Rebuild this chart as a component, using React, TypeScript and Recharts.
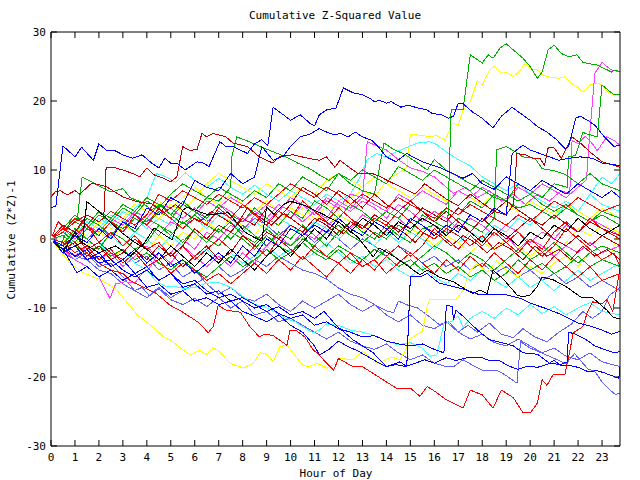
import React from 'react'
import { LineChart, Line, XAxis, YAxis } from 'recharts'

// plot geometry (px inside the 640x480 chart)
const LEFT = 51
const RIGHT = 620
const TOP = 32
const BOTTOM = 446
const FONT = '"DejaVu Sans Mono", "Liberation Mono", monospace'

const HOURS = Array.from({ length: 24 }, (_, i) => i)
const Y_TICKS = [-30, -20, -10, 0, 10, 20, 30]

const BLUE = '#0000ff'
const RED = '#ff0000'
const DKRED = '#c00000'
const GREEN = '#00b000'
const MAGENTA = '#ff40ff'
const CYAN = '#40ffff'
const YELLOW = '#ffff00'
const SLATE = '#6060ff'
const BLACK = '#000000'

type Pt = [number, number]

const blueTop: Pt[] = [[0,4.6],[0.2,4.7],[0.5,13.5],[1.0,11.9],[1.28,13.3],[1.77,11.4],[2.0,13.8],[2.3,12.9],[2.67,12.8],[3.0,12.2],[3.4,11.7],[3.8,12.2],[4.2,11.0],[4.5,10.3],[4.75,11.7],[5.0,11.0],[5.25,11.0],[5.6,10.0],[6.1,11.2],[6.35,11.0],[6.6,10.5],[7.05,14.1],[7.3,13.4],[7.6,13.4],[7.9,12.9],[8.2,12.4],[8.5,13.8],[8.8,14.4],[9.05,13.5],[9.27,19.1],[9.7,18.0],[10.0,17.2],[10.4,18.0],[10.8,16.8],[11.0,16.4],[11.2,18.0],[11.5,18.7],[11.9,19.0],[12.2,21.9],[12.6,21.2],[13.0,20.9],[13.3,20.4],[13.5,19.9],[13.7,20.1],[14.0,19.7],[14.2,19.9],[14.6,19.1],[14.9,19.4],[15.3,19.0],[15.7,18.7],[15.9,18.2],[16.3,18.0],[16.6,17.5],[16.8,17.8],[17.0,19.7],[17.2,19.6],[17.6,18.4],[18.0,17.5],[18.45,16.1],[18.8,17.8],[19.25,19.1],[19.6,18.2],[20.0,17.2],[20.3,16.3],[20.7,15.5],[21.1,14.4],[21.45,13.1],[21.6,13.4],[21.9,17.5],[22.1,17.8],[22.4,17.2],[22.7,16.5],[23.1,14.8],[23.5,13.4],[23.75,13.6]]
const blueSecond: Pt[] = [[0,0],[0.5,-1.5],[1,0.5],[1.5,-0.5],[2,1.5],[2.5,0],[3,2.5],[3.5,1.5],[4,4.5],[4.5,3.5],[5,6],[5.5,5],[6,8.5],[6.5,7.5],[7,7],[7.5,9.5],[8,8],[8.5,9],[8.8,13.4],[9.27,11.4],[9.7,12.0],[10.0,13.4],[10.4,14.8],[10.8,15.2],[11.2,16.0],[11.5,15.5],[11.8,15.1],[12.1,15.3],[12.4,14.8],[12.7,15.5],[13.0,14.8],[13.4,14.3],[13.7,13.2],[14.0,11.9],[14.4,11.2],[14.85,12.4],[15.1,11.9],[15.5,11.2],[16.2,10.4],[16.7,9.6],[17.2,8.8],[17.6,9.5],[18.0,8.0],[18.5,7.2],[19.0,9.0],[19.5,8.0],[20.0,7.0],[20.5,8.5],[21.0,7.5],[21.5,6.5],[22.0,8.0],[22.5,7.0],[23.0,6.0],[23.4,7.0],[23.75,6.0]]
const blueLateJump: Pt[] = [[0,0],[0.5,-2],[1,-1],[1.5,-3],[2,-2],[2.5,-4],[3,-3],[3.5,-1.5],[4,-3.5],[4.5,-2],[5,-4],[5.5,-3],[6,-5],[6.5,-3.5],[7,-2],[7.5,-3.5],[8,-1],[8.5,-2.5],[9,0],[9.5,-1],[10,1.5],[10.5,0.5],[11,2],[11.5,1],[12,3],[12.5,1.5],[13,0.5],[13.5,2.5],[14,1.5],[14.5,0],[15,3],[15.5,2],[16,0.5],[16.5,2],[17,1],[17.5,3.5],[18,2.5],[18.5,4.5],[19.0,3.5],[19.25,12.4],[19.7,13.6],[20.0,12.9],[20.4,12.4],[20.8,11.9],[21.2,11.4],[21.6,11.7],[22.1,11.9],[22.6,11.7],[23.0,11.0],[23.45,10.8],[23.75,10.6]]
const greenTop: Pt[] = [[0,0],[0.5,2],[1,1],[1.5,3],[2,2],[2.5,0.5],[3,2.5],[3.5,1],[4,3],[4.5,2],[5,0.5],[5.5,2.5],[6,1],[6.5,-0.5],[7,1.5],[7.5,0],[8,2],[8.5,0.5],[9,-1],[9.5,1],[10,0],[10.5,2],[11,0.5],[11.5,-1],[12,1],[12.5,2.5],[13,1],[13.5,0],[14,2],[14.5,0.5],[15,-0.5],[15.5,1.5],[16,2],[16.55,0.9],[16.7,18.7],[17.2,18.8],[17.5,26.7],[18.0,25.5],[18.25,26.7],[18.45,26.2],[18.75,27.7],[19.0,28.3],[19.3,27.4],[19.7,26.2],[20.0,25.0],[20.3,23.3],[20.5,24.2],[20.75,27.4],[21.0,28.1],[21.3,26.9],[21.6,26.4],[21.95,26.7],[22.2,25.6],[22.8,25.2],[23.4,24.2],[23.55,24.5],[23.75,24.2]]
const yellowTop: Pt[] = [[0,0],[0.5,-1.5],[1,0],[1.5,-2],[2,-1],[2.5,-3],[3,-1.5],[3.5,-3],[4,-2],[4.5,0.5],[5,-1],[5.5,1],[6,0],[6.5,2.5],[7,1],[7.5,3],[8,2],[8.5,0.5],[9,3],[9.5,2],[10,4.5],[10.5,3.5],[11,2.5],[11.5,5],[12,4],[12.5,6],[13,7],[13.5,6],[14,8.5],[14.5,9.5],[14.85,10.4],[15.0,15.2],[15.5,15.0],[15.8,14.8],[16.1,15.0],[16.45,14.3],[16.75,16.8],[17.0,16.5],[17.2,18.7],[17.5,19.9],[17.8,23.0],[18.0,22.3],[18.3,24.5],[18.5,25.0],[18.8,24.0],[19.0,24.2],[19.3,23.5],[19.6,24.5],[19.8,25.6],[20.0,24.7],[20.3,24.5],[20.5,23.8],[20.8,23.5],[21.2,23.3],[21.45,23.5],[21.7,22.6],[21.95,22.1],[22.2,21.3],[22.5,22.3],[22.8,22.6],[23.0,22.3],[23.25,21.3],[23.5,20.9],[23.75,20.9]]
const magentaTop: Pt[] = [[0,0],[0.5,-1],[1,-2.5],[1.5,-1],[2,-3],[2.5,-2],[3,-4],[3.5,-2.5],[4,-1],[4.5,-3],[5,-2],[5.5,0],[6,-1.5],[6.5,1],[7,0],[7.5,2],[8,1],[8.5,3.5],[9,2.5],[9.5,4],[10,3],[10.5,5],[11,4],[11.5,3],[12,5.5],[12.5,4.5],[13,6],[13.5,5],[14,4],[14.5,6.5],[15,5.5],[15.5,7],[16,6],[16.5,5],[17,7],[17.5,6],[18,7.5],[18.5,6.5],[19,5.5],[19.5,7.5],[20,6.5],[20.5,8],[21,7],[21.5,6],[22,7.5],[22.35,8.6],[22.5,15.8],[22.7,24.0],[23.0,25.6],[23.2,25.0],[23.4,24.5],[23.75,24.2]]
const greenRight: Pt[] = [[0,0],[0.5,1.5],[1,3.5],[1.5,2],[2,4],[2.5,3],[3,5],[3.5,4],[4,6],[4.5,5],[5,3.5],[5.5,5.5],[6,4],[6.5,3],[7,5],[7.5,3.5],[8,2.5],[8.5,4.5],[9,3],[9.5,2],[10,4],[10.5,3],[11,5.5],[11.5,4.5],[12,3],[12.5,5],[13,4],[13.5,2.5],[14,4],[14.5,3],[15,5],[15.5,4],[16,2.5],[16.5,4.5],[17,3.5],[17.5,5.5],[18,4.5],[18.5,6.5],[19,5.5],[19.5,8],[20,7],[20.5,6],[21,8],[21.55,7.5],[21.6,11.9],[21.9,12.1],[22.2,15.5],[22.3,15.3],[22.8,14.8],[23.0,22.3],[23.5,20.9],[23.75,20.9]]
const greenMidJump: Pt[] = [[0,0],[0.5,-1],[1,1.5],[1.5,0],[2,-1.5],[2.5,1],[3,0],[3.5,-1.5],[4,-0.5],[4.5,2],[5,1],[5.5,-0.5],[6,1.5],[6.5,0],[7,-1],[7.5,1],[8,0],[8.5,-1.5],[9,0.5],[9.5,-1],[10,-2],[10.5,0],[11,-1],[11.5,1],[12,2],[12.5,0.5],[13,-0.5],[13.5,1],[14,0],[14.5,2],[15,1],[15.5,3.5],[16,2.5],[16.5,1.5],[17,3],[17.5,2],[18,1],[18.5,3],[18.6,12.9],[19.0,13.4],[19.4,12.6],[19.7,11.9],[20.2,11.7],[20.5,10.2],[21.0,9.9],[21.5,9.3],[22,8],[22.5,9.5],[23,8],[23.75,7]]
const greenEarlyPeak: Pt[] = [[0,0],[0.5,1],[1,-0.5],[1.5,1.5],[2,0.5],[2.5,2.5],[3,1.5],[3.5,3],[4,2],[4.5,4],[5,3],[5.5,5],[6,4],[6.5,6],[7,5.5],[7.5,7.5],[7.55,11.9],[7.75,14.8],[8.2,14.2],[8.8,13.3],[9.3,12.6],[9.8,11.9],[10.3,11],[10.8,10.2],[11.2,9.3],[11.6,8.5],[12,9.5],[12.5,8],[13,7],[13.5,6.5],[13.9,13.9],[14.3,13],[14.8,12.2],[15.3,11],[15.7,10],[16,11.5],[16.5,10],[17,9],[17.5,8],[18,7.2],[18.5,6],[19,5.5],[19.5,4.5],[20,5],[20.5,4],[21,3],[21.5,4.5],[22,3.5],[22.5,2.5],[23,3.5],[23.75,2]]
const greenLeftPeak: Pt[] = [[0,0],[0.4,-1],[0.8,2.5],[1.1,3],[1.3,9.0],[1.7,8.3],[2.1,7.5],[2.5,6.8],[3,7.3],[3.3,6],[3.8,5.3],[4.2,4.2],[4.6,5],[5,3.5],[5.5,2.2],[6,3.5],[6.5,2],[7,1],[7.5,2.5],[8,0.5],[8.5,-0.5],[9,1.5],[9.5,0],[10,-1],[10.5,0.5],[11,-1.5],[11.5,-2.5],[12,-1],[12.5,-2],[13,-3],[13.5,-1.5],[14,-2.5],[14.5,-4],[15,-3],[15.5,-4.5],[16,-3.5],[16.5,-5],[17,-4],[17.5,-5.5],[18,-4.5],[18.5,-6],[19,-5],[19.5,-3],[20,-4.5],[20.5,-3.5],[21,-5],[21.5,-4],[22,-2.5],[22.5,-4],[23,-3],[23.75,-4]]
const greenBand: Pt[] = [[0,0],[0.5,1],[1,2.5],[1.5,1.5],[2,3.5],[2.5,2.5],[3,4.5],[3.5,3.5],[4,5.5],[4.5,4.5],[5,6.5],[5.5,8],[6,7],[6.5,6],[7,7.5],[7.5,6.5],[8,5.5],[8.5,7],[9,6],[9.5,8],[10,7],[10.5,9],[11,8],[11.5,7],[12,9.5],[12.5,8.5],[13,10],[13.5,9],[14,8],[14.5,10.5],[15,9.5],[15.5,8.5],[16,10],[16.5,9],[17,8],[17.5,7],[18,8.5],[18.5,7.5],[19,6.5],[19.5,5.5],[20,6.5],[20.5,5],[21,4],[21.5,5],[22,3.5],[22.5,2.5],[23,4],[23.75,3]]
const dkredPeak: Pt[] = [[0,0],[0.5,2],[1,1],[1.5,3.5],[2,2.5],[2.2,3],[2.3,10.3],[2.6,10.4],[3.0,10.0],[3.4,9.5],[3.7,9.0],[4.0,10.3],[4.3,9.3],[4.7,8.8],[5.0,8.3],[5.25,9.0],[5.5,13.4],[5.8,12.8],[6.1,13.0],[6.3,15.3],[6.5,14.8],[6.77,15.3],[7.3,14.8],[7.6,13.9],[8.2,13.4],[8.7,11.9],[9.0,11.4],[9.27,11.0],[9.55,12.0],[10.1,12.2],[10.6,11.8],[11.2,11.4],[11.5,11.9],[11.85,10.4],[12.06,11.4],[12.8,9.5],[13.4,9.5],[13.7,9.1],[14.2,8.2],[14.7,7.4],[15.2,6.5],[15.6,8.0],[16,7.0],[16.5,5.8],[17,4.8],[17.5,6.5],[18,5.2],[18.5,4.0],[19,5.5],[19.5,4.2],[20,3.0],[20.5,2.0],[21,3.5],[21.5,2.2],[22,1],[22.5,2.5],[23,1.5],[23.75,0.5]]
const dkredHighStart: Pt[] = [[0,6.1],[0.17,6.8],[0.4,7.0],[0.67,6.4],[1.0,7.0],[1.2,6.5],[1.7,8.1],[2.3,7.6],[3.0,6.1],[3.6,5.4],[4.2,5.1],[4.7,3.8],[5.2,5],[5.7,3.5],[6.2,2.5],[6.7,4],[7.2,3],[7.7,1.8],[8.2,4.5],[8.7,3.2],[9.2,2],[9.7,3.8],[10.2,2.5],[10.7,1.2],[11.2,3],[11.7,2],[12.2,0.8],[12.7,2.5],[13.2,1.5],[13.7,0.2],[14.2,2],[14.7,1],[15.2,-0.5],[15.7,1.5],[16.2,0.5],[16.7,-1],[17.2,0.5],[17.7,-0.5],[18.2,-2],[18.7,-0.5],[19.2,-1.5],[19.7,-3],[20.2,-1],[20.7,-2.5],[21.2,-1.5],[21.7,-3],[22.2,-1],[22.7,-2.5],[23.2,-1.5],[23.75,-3]]
const dkredLate: Pt[] = [[0,0],[0.5,-1.5],[1,-0.5],[1.5,-2.5],[2,-1],[2.5,-3],[3,-2],[3.5,0],[4,-1.5],[4.5,-3],[5,-2],[5.5,-4],[6,-2.5],[6.5,-1],[7,-3],[7.5,-2],[8,0.5],[8.5,-1],[9,1],[9.5,0],[10,2],[10.5,1],[11,3],[11.5,2],[12,0.5],[12.5,2.5],[13,1.5],[13.5,3.5],[14,2.5],[14.5,1],[15,2.5],[15.5,4.5],[16,3.5],[16.5,2.5],[17,4.5],[17.5,3.5],[18,2.5],[18.5,4],[19,3.5],[19.3,5],[19.45,12.4],[19.8,12.2],[20.1,11.7],[20.4,11.7],[20.6,10.7],[20.75,13.2],[21.0,13.2],[21.3,11.7],[21.75,14.8],[22.1,13.9],[22.5,12.6],[23.0,11.2],[23.75,10.4]]
const redLow: Pt[] = [[0,0],[0.5,-1.5],[1,-2.5],[1.5,-2],[2,-3.5],[2.5,-4.5],[3,-5],[3.3,-6],[3.7,-6.7],[4.4,-7.9],[4.97,-9.6],[5.5,-10.6],[6.2,-12.2],[6.56,-13.6],[6.77,-12.7],[6.98,-9.6],[7.3,-10.3],[7.9,-10.6],[8.3,-12.7],[8.7,-14.2],[8.93,-13.8],[9.27,-14.0],[9.85,-15.4],[9.97,-13.3],[10.25,-13.3],[10.6,-14.2],[10.95,-16.1],[11.2,-16.8],[11.5,-18.0],[11.8,-19.0],[12.0,-17.3],[12.6,-18.5],[13.0,-18.5],[13.86,-20.4],[14.4,-21.6],[15.0,-21.6],[15.4,-22.8],[15.7,-21.4],[15.95,-21.9],[16.5,-23.3],[17.2,-24.5],[17.5,-21.9],[18.0,-22.6],[18.45,-24.5],[18.8,-21.9],[19.3,-23.0],[19.7,-25.2],[20.0,-25.2],[20.3,-23.8],[20.5,-20.4],[20.7,-21.2],[20.95,-19.7],[21.45,-19.7],[21.66,-16.1],[21.8,-13.6],[22.2,-12.7],[22.37,-10.8],[22.6,-9.1],[23.0,-9.4],[23.2,-8.8],[23.45,-10.5],[23.6,-7.4],[23.75,-4.2]]
const yellowLow: Pt[] = [[0,0],[0.4,-1.8],[0.8,-3.5],[1.35,-4.9],[2.05,-5.9],[2.46,-6.7],[2.75,-7.4],[3.6,-11.0],[4.27,-12.8],[4.7,-14.2],[4.97,-14.6],[5.4,-15.8],[5.8,-16.8],[6.2,-16.1],[6.5,-16.8],[6.77,-15.7],[7.05,-16.4],[7.47,-18.0],[8.03,-18.7],[8.45,-18.0],[8.72,-16.5],[9.0,-16.7],[9.27,-17.8],[9.55,-15.6],[9.85,-15.4],[10.1,-16.5],[10.5,-18.3],[10.8,-18.5],[11.1,-18.0],[11.5,-18.7],[11.8,-18.2],[12.06,-17.3],[12.6,-17.5],[13.0,-16.3],[13.65,-18.0],[14.2,-17.1],[14.57,-17.5],[14.8,-16.1],[15.0,-14.4],[15.5,-13.4],[15.7,-9.8],[15.8,-8.8],[16.45,-8.8],[16.9,-8.8],[17.2,-7.4],[17.5,-4.5],[17.8,-3.5],[18.2,-4.8],[18.6,-3.2],[19.0,-4.5],[19.5,-5.5],[20.0,-4.0],[20.5,-5.0],[21.0,-3.5],[21.5,-2.5],[22.0,-4.0],[22.5,-2.0],[23.0,-1.0],[23.4,-2.0],[23.75,1.5]]
const yellowUpper: Pt[] = [[0,0],[0.5,-0.5],[1,1.5],[1.5,0.5],[2,2.5],[2.5,1.5],[3,3],[3.5,5],[4,4],[4.5,3],[5,5],[5.5,4],[6,6],[6.5,8],[7,9.5],[7.5,8.5],[8,7.5],[8.5,6.5],[9,8],[9.5,7],[10,6],[10.5,7.5],[11,6.5],[11.5,8.5],[12,9.5],[12.5,8.5],[13,7.5],[13.5,9],[14,8],[14.5,7],[15,6],[15.5,7.5],[16,6.5],[16.5,5.5],[17,7],[17.5,6],[18,5],[18.5,6.5],[19,5],[19.5,4],[20,5.5],[20.5,4.5],[21,3.5],[21.5,5],[22,4],[22.5,3],[23,4.5],[23.75,3]]
const blackDrift: Pt[] = [[0,0],[0.35,-1.2],[0.7,-1.5],[1.3,-0.5],[2,-2],[2.7,-1],[3.3,-2.5],[3.9,-0.6],[4.3,1.6],[5.05,-0.1],[5.5,4.2],[5.7,4.6],[6.55,3.5],[7.4,3.8],[8.1,1.0],[8.5,0.2],[8.8,-0.3],[9.0,4.7],[9.3,3.6],[9.7,5.0],[10.0,5.5],[10.7,4.7],[11.4,3.5],[12.06,2.3],[12.8,0.3],[13.45,-2.6],[13.7,-1.3],[14.3,-2.5],[14.85,-3.8],[15.4,-5.2],[15.7,-4.5],[16.2,-5.5],[16.8,-6.2],[17.35,-7.4],[17.6,-7.9],[17.9,-7.4],[18.2,-7.9],[18.45,-4.5],[18.9,-5.9],[19.45,-8.1],[19.7,-8.4],[20.0,-8.1],[20.3,-6.9],[20.5,-5.5],[20.95,-5.9],[21.5,-6.9],[22.1,-8.4],[22.6,-8.5],[23.2,-10.3],[23.45,-11.3],[23.75,-11.6]]
const blackEarly: Pt[] = [[0,0],[0.5,-2],[1,1],[1.3,-0.5],[1.5,5.4],[2,4.0],[2.67,1.8],[3,0.8],[3.5,-0.5],[4,-1.5],[4.5,-3],[5,-1],[5.5,-2.5],[6,-4],[6.5,-2],[7,-3.5],[7.5,-1.5],[8,-3],[8.5,-4.5],[9,-2.5],[9.5,-1],[10,-2.5],[10.5,-0.5],[11,1.5],[11.5,0],[12,2.5],[12.5,1],[13,3],[13.5,2],[14,0.5],[14.5,2.5],[15,1.5],[15.5,3],[16,2],[16.5,0.5],[17,2],[17.5,1],[18,-0.5],[18.5,1.5],[19,0.5],[19.5,-1],[20,1],[20.5,0],[21,2],[21.5,1],[22,3],[22.5,1.5],[23,0.5],[23.75,2]]
const cyanLow: Pt[] = [[0,0],[0.5,-1],[1,0.5],[1.5,-1.5],[2,-0.5],[2.5,-2.5],[3,-1.5],[3.5,-3.5],[4,-4.5],[4.4,-6.2],[4.8,-6.9],[5.2,-6.9],[5.6,-7.2],[6,-7.0],[6.5,-6.4],[7.0,-6.3],[7.5,-7.0],[8.0,-8.3],[8.5,-9.5],[8.9,-9.8],[9.3,-10.5],[9.8,-11.5],[10.2,-12.0],[10.5,-12.7],[10.95,-13.6],[11.2,-13.2],[11.5,-12.3],[12,-12.5],[12.5,-13.2],[13,-13.5],[13.5,-14],[14,-14.8],[14.5,-15.3],[15,-15.0],[15.5,-15.8],[15.8,-17.0],[16.1,-16.8],[16.4,-12.3],[16.7,-12.0],[17,-11.2],[17.2,-12.8],[17.5,-11.5],[18,-10.5],[18.5,-11.5],[19,-10.0],[19.5,-11.0],[20,-9.5],[20.5,-10.8],[21,-9.8],[21.5,-11.0],[22,-10.0],[22.5,-9.2],[23,-10.5],[23.75,-11.0]]
const cyanHigh: Pt[] = [[0,0],[0.5,1.5],[1,0.5],[1.5,2.5],[2,1.5],[2.5,3.5],[3,2.5],[3.5,4.5],[4,6],[4.4,9.5],[4.8,9],[5.2,8.2],[5.6,9.6],[6,8.5],[6.5,7.5],[7,8.8],[7.5,7.5],[8,6.5],[8.5,7.8],[9,6.5],[9.5,5.5],[10,7],[10.5,6],[11,5],[11.5,6.5],[12,5.5],[12.5,6.5],[12.9,9],[13.2,11.5],[13.6,12.4],[14,11.8],[14.4,12.6],[14.8,13.2],[15.3,13.9],[15.8,14.1],[16.1,13.7],[16.5,12.6],[17,11.5],[17.5,10.6],[18,9.0],[18.5,8.0],[19,7],[19.5,8],[20,6.5],[20.5,5.5],[21,4.5],[21.5,5.5],[22,4],[22.5,6.5],[23,5],[23.75,4]]
const magentaLow: Pt[] = [[0,0],[0.5,-1.5],[1,-3],[1.5,-4],[2,-5.5],[2.46,-8.6],[2.7,-6.5],[3.1,-6.2],[3.5,-6.4],[3.8,-5.0],[4.1,-4.3],[4.5,-2],[5,-3.5],[5.5,-1],[6,-2.5],[6.5,-4],[7,-2.5],[7.5,-4],[8,-2],[8.5,-3.5],[9,-1],[9.5,0.5],[10,-1],[10.5,1],[11,0],[11.5,2],[12,3],[12.5,1.5],[13,3.5],[13.5,2.5],[14,4],[14.5,3],[15,1.5],[15.5,3],[16,2],[16.5,0.5],[17,2.5],[17.5,1],[18,-0.5],[18.5,1.5],[19,0.5],[19.5,-1.5],[20,0],[20.5,-1],[21,-2.5],[21.5,-1],[22,-2],[22.5,-0.5],[23,-2],[23.75,-1]]
const magentaMid: Pt[] = [[0,0],[0.5,1],[1,-0.5],[1.5,1.5],[2,0.5],[2.5,2.5],[3,1],[3.5,3],[4,2],[4.5,0.5],[5,2.5],[5.5,1.5],[6,3.5],[6.5,5.5],[7,4.5],[7.5,6],[8,5],[8.5,3.5],[9,5],[9.5,4],[10,6],[10.5,5],[11,3.5],[11.5,5.5],[12,4.5],[12.5,6.5],[13,6],[13.2,14.1],[13.6,13.5],[14,12.9],[14.5,11.5],[15,10.3],[15.5,9.8],[16,9.0],[16.5,7.5],[16.8,6.6],[17.3,7.5],[17.8,6.0],[18.3,7.0],[18.8,5.5],[19.3,6.5],[19.8,5.0],[20.3,6.5],[20.8,5.5],[21.3,7.0],[21.65,6.5],[21.75,14.3],[22.0,13.8],[22.3,14.9],[22.6,13.8],[22.8,12.8],[23.0,13.8],[23.2,14.8],[23.5,14.3],[23.75,13.6]]
const slateLow: Pt[] = [[0,0],[0.5,-1],[1,-2.5],[1.5,-3],[2,-4.5],[2.5,-5],[3,-6.5],[3.5,-7.5],[4,-8.5],[4.5,-7.2],[5,-8.8],[5.5,-9.5],[6,-8.6],[6.5,-9.8],[7,-8.5],[7.5,-10],[8,-9],[8.5,-11],[9,-10.5],[9.5,-12],[10,-11.5],[10.5,-12.5],[11,-13.5],[11.5,-14.5],[12,-13.5],[12.5,-14.8],[13,-15.5],[13.5,-16.0],[14,-15.2],[14.5,-16.5],[15,-17.5],[15.5,-16.8],[16,-18],[16.5,-18.5],[16.8,-18.5],[17.2,-17.5],[17.6,-18.3],[18.0,-19.0],[18.6,-19.0],[19.0,-19.8],[19.45,-20.9],[19.6,-14.9],[20.0,-15.8],[20.4,-16.4],[20.8,-17.0],[21.2,-17.6],[21.5,-18.1],[21.85,-16.6],[22.1,-17.6],[22.4,-18.8],[22.7,-19.2],[23.0,-20.7],[23.3,-21.8],[23.55,-22.5],[23.75,-22.4]]
const blueLow: Pt[] = [[0,0],[0.5,-1.5],[1.08,-4.9],[1.5,-4.0],[2,-5.5],[2.5,-4.5],[3,-6],[3.5,-5],[4,-7],[4.5,-6.5],[5,-8],[5.5,-7.5],[6,-9],[6.5,-8.5],[7,-9.5],[7.5,-9],[8,-10.5],[8.5,-11.2],[9,-12],[9.5,-11],[10,-12.5],[10.5,-13.5],[11,-15.5],[11.2,-16.8],[11.6,-16.0],[12,-14.8],[12.4,-15.6],[12.8,-16.2],[13.2,-17.0],[13.6,-17.8],[14,-18.5],[14.4,-18.2],[14.8,-18.5],[15.2,-18.0],[15.6,-17.5],[16,-18.0],[16.5,-17.2],[16.9,-17.6],[17.4,-17.2],[17.9,-17.1],[18.3,-17.6],[18.7,-17.6],[19.1,-18.4],[19.5,-18.9],[19.9,-18.4],[20.3,-18.6],[20.7,-18.2],[21.0,-17.6],[21.3,-18.4],[21.6,-18.3],[22.0,-18.6],[22.4,-19.2],[22.8,-19.1],[23.1,-19.4],[23.4,-19.8],[23.7,-20.2],[23.75,-18.6]]
const blueJump15: Pt[] = [[0,0],[0.5,-2],[1,-1],[1.5,-3],[2,-2.5],[2.5,-4],[3,-3],[3.5,-5],[4,-4],[4.5,-6],[5,-5],[5.5,-7],[6,-6.5],[6.5,-8],[7,-7.5],[7.5,-9],[8,-8.5],[8.5,-9.5],[9,-10.5],[9.5,-9.8],[10,-11],[10.5,-10.5],[11,-11.5],[11.4,-10.5],[11.9,-12.5],[12.6,-14.6],[13.45,-16.5],[14.0,-18.5],[14.57,-17.8],[14.85,-18.5],[15.0,-5.5],[15.4,-5.5],[15.7,-5.0],[16.2,-6.4],[16.8,-6.9],[17.35,-7.4],[17.9,-8.1],[18.45,-8.0],[19.0,-8.1],[19.6,-8.6],[20.0,-9.3],[20.6,-10.0],[21.2,-10.8],[21.6,-11.5],[22.0,-12.2],[22.5,-12.6],[23.0,-13.2],[23.4,-13.8],[23.75,-13.4]]
const blueJump16: Pt[] = [[0,0],[0.5,-1],[1,-2.5],[1.5,-1.5],[2,-3.5],[2.5,-3],[3,-4.5],[3.5,-5.5],[4,-4.5],[4.5,-6],[5,-5],[5.5,-6.5],[6,-6],[6.5,-7.5],[7,-8.5],[7.5,-8],[8,-9],[8.5,-10],[9,-9.5],[9.5,-10.8],[10,-11.5],[10.5,-11],[11,-12.5],[11.5,-12],[12,-13],[12.5,-13.5],[13,-14.2],[13.5,-14],[14,-14.8],[14.5,-15.2],[15,-15.5],[15.5,-15.2],[16,-16],[16.4,-16.5],[16.5,-9.6],[16.75,-9.8],[16.8,-11.7],[16.9,-10.3],[17.3,-11.5],[17.8,-13.2],[18.3,-14.6],[18.9,-15.1],[19.3,-15.5],[19.7,-16.5],[20.3,-16.7],[20.8,-18.0],[21.25,-18.2],[21.55,-17.8],[21.6,-13.5],[21.9,-13.8],[22.3,-14.5],[22.7,-15.5],[23.1,-16.0],[23.5,-16.5],[23.75,-16.3]]
const slateMid: Pt[] = [[0,0],[0.5,-2],[1,-3],[1.5,-2],[2,-4],[2.5,-3.5],[3,-5.5],[3.5,-7.5],[3.8,-7],[4.1,-8.2],[4.5,-7.0],[5,-8.5],[5.5,-7.5],[6,-6.5],[6.5,-5.5],[7,-4],[7.5,-5.5],[8,-4.5],[8.5,-3],[9,-4],[9.5,-2.5],[10,-3.5],[10.5,-4.5],[11,-5.0],[11.5,-5.8],[12,-7.1],[12.5,-8.0],[13,-8.5],[13.5,-9.5],[14,-10.4],[14.3,-10.7],[14.5,-9.0],[14.9,-9.6],[15.3,-10.0],[15.7,-11.0],[16.2,-12.4],[16.6,-12.0],[17,-13.5],[17.4,-12.5],[17.8,-13.5],[18.3,-12.2],[18.8,-13.8],[19.3,-14.3],[19.7,-13.0],[20.2,-14.2],[20.7,-14.9],[21.2,-13.5],[21.7,-12.4],[22.2,-10.5],[22.6,-11.5],[23.0,-10.5],[23.3,-8.2],[23.75,-7]]
const slateDown: Pt[] = [[0,0],[0.5,1],[1,-0.5],[1.5,-2],[2,-1],[2.5,-2.5],[3,-1.5],[3.5,-3.5],[4,-2.5],[4.5,-4.5],[5,-3.5],[5.5,-5.5],[6,-4.5],[6.5,-6.5],[7,-8],[7.5,-7],[8,-8.5],[8.5,-9],[9,-8],[9.5,-9.5],[10,-10.5],[10.5,-9],[11,-10],[11.5,-9],[12,-8],[12.5,-9.5],[13,-10.5],[13.5,-9.5],[14,-11],[14.5,-12],[15,-11],[15.5,-12.5],[16,-13],[16.5,-12],[17,-13.5],[17.5,-14.5],[18,-13.8],[18.5,-15],[19,-15.5],[19.5,-14.5],[20,-15.5],[20.5,-16.5],[21,-15.8],[21.5,-17],[22,-17.5],[22.5,-16.5],[23,-17.8],[23.75,-18.5]]
const redA: Pt[] = [[0,0],[0.5,1.5],[1,0.5],[1.5,2],[2,-0.5],[2.5,1],[3,-1],[3.5,0.5],[4,-1.5],[4.5,-0.5],[5,-2.5],[5.5,-1],[6,-3],[6.5,-1.5],[7,0],[7.5,-1.5],[8,-3],[8.5,-1],[9,-2.5],[9.5,0],[10,-1.5],[10.5,-3],[11,-1],[11.5,-2.5],[12,-3.5],[12.5,-2],[13,-4],[13.5,-3],[14,-5],[14.5,-3.5],[15,-2],[15.5,-3.5],[16,-5],[16.5,-3],[17,-4.5],[17.5,-2.5],[18,-4],[18.5,-2],[19,-3.5],[19.5,-5],[20,-3],[20.5,-4.5],[21,-2.5],[21.5,-4],[22,-5.5],[22.5,-4],[23,-6],[23.75,-5]]
const redB: Pt[] = [[0,0],[0.3,2.5],[0.6,1.5],[1,3],[1.5,2],[2,0.5],[2.5,2.5],[3,1],[3.5,3.5],[4,2],[4.5,4.5],[5,3],[5.5,1.5],[6,3],[6.5,2],[7,4.5],[7.5,3],[8,5],[8.5,3.5],[9,2],[9.5,4],[10,3],[10.5,5.5],[11,4],[11.5,2.5],[12,4.5],[12.5,3],[13,1.5],[13.5,3],[14,2],[14.5,4],[15,2.5],[15.5,1],[16,0],[16.5,1.5],[17,0.5],[17.5,-1],[18,0.5],[18.5,-1.5],[19,-0.5],[19.5,1],[20,-1],[20.5,-2.5],[21,-1],[21.5,1.5],[22,0],[22.5,-1.5],[23,-3],[23.5,-2],[23.75,-4]]
const redC: Pt[] = [[0,0],[0.5,-0.5],[1,-2],[1.5,-1],[2,-3],[2.5,-1.5],[3,-3.5],[3.5,-2],[4,-4],[4.5,-3],[5,-5],[5.5,-3.5],[6,-4.5],[6.5,-6],[7,-5],[7.5,-6.5],[8,-5],[8.5,-3.5],[9,-5],[9.5,-3],[10,-4.5],[10.5,-2.5],[11,-4],[11.5,-5.5],[12,-3.5],[12.5,-5],[13,-3],[13.5,-4.5],[14,-2.5],[14.5,-1],[15,-2.5],[15.5,-1],[16,1.5],[16.5,0],[17,-1.5],[17.5,0.5],[18,-1],[18.5,1],[19,-0.5],[19.5,-2],[20,0],[20.5,-1.5],[21,1],[21.5,2.5],[22,1],[22.5,3],[23,1.5],[23.75,0]]
const redUpper: Pt[] = [[0,0],[0.5,1],[1,2.5],[1.5,3.5],[2,2.5],[2.5,4],[3,3],[3.5,2],[4,3.5],[4.5,6.5],[5,5.5],[5.5,7],[6,6],[6.5,5],[7,6.5],[7.5,5.5],[8,4.5],[8.5,6],[9,5],[9.5,6.5],[10,8],[10.5,7],[11,6],[11.5,7.5],[12,6.5],[12.5,5],[13,6.5],[13.5,5.5],[14,4.5],[14.5,6],[15,5],[15.5,4],[16,3],[16.5,4.5],[17,3.5],[17.5,5],[18,4],[18.5,3],[19,2],[19.5,3.5],[20,2.5],[20.5,4],[21,5.5],[21.5,4.5],[22,6],[22.5,5],[23,4],[23.75,5]]
const dkredMid: Pt[] = [[0,0],[0.5,-1],[1,0.5],[1.5,-1.5],[2,-0.5],[2.5,-2],[3,-3],[3.5,-1.5],[4,-3],[4.5,-1],[5,-2.5],[5.5,-1],[6,1.5],[6.5,0],[7,2],[7.5,1],[8,3],[8.5,2],[9,4.5],[9.5,3],[10,5],[10.5,7.5],[11,6.5],[11.5,5],[12,7],[12.5,6],[13,4.5],[13.5,6.5],[14,5],[14.5,4],[15,5.5],[15.5,4],[16,2.5],[16.5,4],[17,2.5],[17.5,1],[18,3],[18.5,1.5],[19,0],[19.5,1.5],[20,3],[20.5,1.5],[21,0],[21.5,-1],[22,0.5],[22.5,-1],[23,0.5],[23.75,-1]]
const cyanMid: Pt[] = [[0,0],[0.5,-1.5],[1,-0.5],[1.5,-2],[2,-1],[2.5,0.5],[3,-1],[3.5,1],[4,0],[4.5,-1.5],[5,0.5],[5.5,-1],[6,-2.5],[6.5,-1.5],[7,-3],[7.5,-2],[8,-3.5],[8.5,-2.5],[9,-1],[9.5,-2.5],[10,-1.5],[10.5,-3],[11,-2],[11.5,-0.5],[12,-2],[12.5,-3.5],[13,-2.5],[13.5,-4],[14,-3],[14.5,-4.5],[15,-5.5],[15.5,-4],[16,-5.5],[16.5,-6.5],[17,-5],[17.5,-6],[18,-4.5],[18.5,-6],[19,-7],[19.5,-5.5],[20,-7],[20.5,-6],[21,-7.5],[21.5,-6],[22,-4.5],[22.5,-6],[23,-5],[23.75,-3.5]]
const cyanRise: Pt[] = [[0,0],[0.5,1],[1,0],[1.5,1.5],[2,3],[2.5,2],[3,4],[3.5,3],[4,1.5],[4.5,3],[5,2],[5.5,4],[6,3],[6.5,1.5],[7,3.5],[7.5,2.5],[8,1],[8.5,2.5],[9,1.5],[9.5,3],[10,2],[10.5,0.5],[11,2.5],[11.5,1.5],[12,0],[12.5,1.5],[13,0.5],[13.5,-1],[14,1],[14.5,-0.5],[15,1],[15.5,0],[16,-1.5],[16.5,0.5],[17,-0.5],[17.5,1],[18,0],[18.5,2],[19,1],[19.5,3],[20,2],[20.5,4],[21,3],[21.5,5],[22,4],[22.5,6.5],[23,9],[23.4,8],[23.75,9.5]]
const yellowMid: Pt[] = [[0,0],[0.5,-1],[1,0.5],[1.5,-1],[2,1],[2.5,0],[3,2],[3.5,1],[4,3],[4.5,5.5],[5,4.5],[5.5,6],[6,7.5],[6.5,6],[7,5],[7.5,6.5],[8,5],[8.5,4],[9,5.5],[9.5,4],[10,3],[10.5,4.5],[11,3],[11.5,2],[12,3.5],[12.5,2.5],[13,1],[13.5,2.5],[14,1.5],[14.5,0],[15,1.5],[15.5,0.5],[16,-1],[16.5,0.5],[17,-0.5],[17.5,-2],[18,-0.5],[18.5,-1.5],[19,0],[19.5,-1],[20,-2.5],[20.5,-1],[21,-2],[21.5,-0.5],[22,1.5],[22.5,0.5],[23,2],[23.75,1]]
const greenLow: Pt[] = [[0,0],[0.5,0.5],[1,-1],[1.5,-2],[2,-1],[2.5,-2.5],[3,-1.5],[3.5,-3],[4,-2],[4.5,-3.5],[5,-4.5],[5.5,-3],[6,-4.5],[6.5,-5.5],[7,-4],[7.5,-2.5],[8,-4],[8.5,-3],[9,-1.5],[9.5,-3],[10,-2],[10.5,-0.5],[11,-2],[11.5,-3],[12,-1.5],[12.5,-3],[13,-4],[13.5,-3],[14,-1.5],[14.5,-3],[15,-4],[15.5,-2.5],[16,-1],[16.5,-2],[17,-3.5],[17.5,-2],[18,-3],[18.5,-4.5],[19,-3],[19.5,-1.5],[20,-3],[20.5,-2],[21,-0.5],[21.5,-2],[22,-3.5],[22.5,-2],[23,-1],[23.75,-2]]
const magentaBand: Pt[] = [[0,0],[0.5,1.5],[1,0],[1.5,2],[2,1],[2.5,3],[3,2],[3.5,4],[4,3],[4.5,5],[5,4.5],[5.5,3],[6,4.5],[6.5,3],[7,5],[7.5,4],[8,2.5],[8.5,4],[9,3],[9.5,5],[10,4],[10.5,2.5],[11,4],[11.5,6],[12,5],[12.5,4],[13,5.5],[13.5,4.5],[14,3],[14.5,5],[15,4],[15.5,2.5],[16,4],[16.5,3],[17,1.5],[17.5,3],[18,2],[18.5,0.5],[19,2],[19.5,1],[20,-0.5],[20.5,1],[21,0],[21.5,2],[22,1],[22.5,3],[23,2],[23.75,0.5]]
const slateUpper: Pt[] = [[0,0],[0.5,-0.5],[1,1],[1.5,0],[2,1.5],[2.5,0.5],[3,2],[3.5,3.5],[4,2.5],[4.5,4],[5,3],[5.5,5],[6,4],[6.5,2.5],[7,4],[7.5,3],[8,1.5],[8.5,3],[9,2],[9.5,0.5],[10,2],[10.5,1],[11,-0.5],[11.5,1],[12,0],[12.5,-1.5],[13,0],[13.5,-1],[14,-2.5],[14.5,-1],[15,-2],[15.5,-3.5],[16,-2.5],[16.5,-4],[17,-3],[17.5,-4.5],[18,-3.5],[18.5,-5],[19,-4],[19.5,-5.5],[20,-4.5],[20.5,-6],[21,-5],[21.5,-6.5],[22,-5.5],[22.5,-7],[23,-6],[23.75,-7.5]]

const SERIES: { name: string; color: string; pts: Pt[] }[] = [
  { name: 'slateUpper', color: SLATE, pts: slateUpper },
  { name: 'slateDown', color: SLATE, pts: slateDown },
  { name: 'slateMid', color: SLATE, pts: slateMid },
  { name: 'slateLow', color: SLATE, pts: slateLow },
  { name: 'cyanMid', color: CYAN, pts: cyanMid },
  { name: 'cyanRise', color: CYAN, pts: cyanRise },
  { name: 'cyanLow', color: CYAN, pts: cyanLow },
  { name: 'cyanHigh', color: CYAN, pts: cyanHigh },
  { name: 'yellowMid', color: YELLOW, pts: yellowMid },
  { name: 'yellowUpper', color: YELLOW, pts: yellowUpper },
  { name: 'yellowLow', color: YELLOW, pts: yellowLow },
  { name: 'yellowTop', color: YELLOW, pts: yellowTop },
  { name: 'magentaBand', color: MAGENTA, pts: magentaBand },
  { name: 'magentaLow', color: MAGENTA, pts: magentaLow },
  { name: 'magentaMid', color: MAGENTA, pts: magentaMid },
  { name: 'magentaTop', color: MAGENTA, pts: magentaTop },
  { name: 'greenLow', color: GREEN, pts: greenLow },
  { name: 'greenBand', color: GREEN, pts: greenBand },
  { name: 'greenLeftPeak', color: GREEN, pts: greenLeftPeak },
  { name: 'greenEarlyPeak', color: GREEN, pts: greenEarlyPeak },
  { name: 'greenMidJump', color: GREEN, pts: greenMidJump },
  { name: 'greenRight', color: GREEN, pts: greenRight },
  { name: 'greenTop', color: GREEN, pts: greenTop },
  { name: 'redA', color: RED, pts: redA },
  { name: 'redB', color: RED, pts: redB },
  { name: 'redC', color: RED, pts: redC },
  { name: 'redUpper', color: RED, pts: redUpper },
  { name: 'redLow', color: RED, pts: redLow },
  { name: 'dkredMid', color: DKRED, pts: dkredMid },
  { name: 'dkredHighStart', color: DKRED, pts: dkredHighStart },
  { name: 'dkredPeak', color: DKRED, pts: dkredPeak },
  { name: 'dkredLate', color: DKRED, pts: dkredLate },
  { name: 'blackEarly', color: BLACK, pts: blackEarly },
  { name: 'blackDrift', color: BLACK, pts: blackDrift },
  { name: 'blueLow', color: BLUE, pts: blueLow },
  { name: 'blueJump15', color: BLUE, pts: blueJump15 },
  { name: 'blueJump16', color: BLUE, pts: blueJump16 },
  { name: 'blueLateJump', color: BLUE, pts: blueLateJump },
  { name: 'blueSecond', color: BLUE, pts: blueSecond },
  { name: 'blueTop', color: BLUE, pts: blueTop },
]

const BottomTick = (props: any) => {
  const { x, payload } = props
  return (
    <g>
      <line x1={x} y1={BOTTOM} x2={x} y2={BOTTOM - 6} stroke="#000" />
      <text x={x} y={BOTTOM + 15} textAnchor="middle" fontFamily={FONT} fontSize={11} fill="#000">
        {payload.value}
      </text>
    </g>
  )
}

const TopTick = (props: any) => (
  <line x1={props.x} y1={TOP} x2={props.x} y2={TOP + 6} stroke="#000" />
)

const LeftTick = (props: any) => {
  const { y, payload } = props
  return (
    <g>
      <line x1={LEFT} y1={y} x2={LEFT + 6} y2={y} stroke="#000" />
      <text x={LEFT - 5} y={y + 4} textAnchor="end" fontFamily={FONT} fontSize={11} fill="#000">
        {payload.value}
      </text>
    </g>
  )
}

const RightTick = (props: any) => (
  <line x1={RIGHT} y1={props.y} x2={RIGHT - 6} y2={props.y} stroke="#000" />
)

export default function App() {
  return (
    <div style={{ position: 'absolute', left: 0, top: 0, width: 640, height: 480, background: '#fff' }}>
      <LineChart width={640} height={480} margin={{ top: 0, right: 0, bottom: 0, left: 0 }}>
        <XAxis xAxisId="b" type="number" dataKey="h" domain={[0, 23.75]} ticks={HOURS} interval={0}
          orientation="bottom" height={480 - BOTTOM} axisLine={{ stroke: '#000' }}
          tickLine={false} tick={<BottomTick />} allowDataOverflow />
        <XAxis xAxisId="t" type="number" dataKey="h" domain={[0, 23.75]} ticks={HOURS} interval={0}
          orientation="top" height={TOP} axisLine={{ stroke: '#000' }} tickLine={false} tick={<TopTick />}
          allowDataOverflow />
        <YAxis yAxisId="l" type="number" domain={[-30, 30]} ticks={Y_TICKS} interval={0} width={LEFT}
          axisLine={{ stroke: '#000' }} tickLine={false} tick={<LeftTick />} allowDataOverflow />
        <YAxis yAxisId="r" orientation="right" type="number" domain={[-30, 30]} ticks={Y_TICKS} interval={0}
          width={640 - RIGHT} axisLine={{ stroke: '#000' }} tickLine={false} tick={<RightTick />}
          allowDataOverflow />
        {SERIES.map((s) => (
          <Line key={s.name} xAxisId="b" yAxisId="l" data={s.pts.map(([h, v]) => ({ h, v }))}
            dataKey="v" type="linear" stroke={s.color} strokeWidth={1} dot={false}
            shapeRendering="crispEdges" activeDot={false} isAnimationActive={false} />
        ))}
        <Line xAxisId="t" yAxisId="r" data={[{ h: 0, v: 0 }]} dataKey="v" stroke="none"
          dot={false} activeDot={false} isAnimationActive={false} />
      </LineChart>
      <svg width={640} height={480} style={{ position: 'absolute', left: 0, top: 0, pointerEvents: 'none' }}>
        <text x={335} y={19} textAnchor="middle" fontFamily={FONT} fontSize={11} fill="#000">
          Cumulative Z-Squared Value
        </text>
        <text x={336} y={477} textAnchor="middle" fontFamily={FONT} fontSize={11} fill="#000">
          Hour of Day
        </text>
        <text transform="translate(15,240) rotate(-90)" textAnchor="middle" fontFamily={FONT} fontSize={11} fill="#000">
          Cumulative (Z*Z)-1
        </text>
      </svg>
    </div>
  )
}
